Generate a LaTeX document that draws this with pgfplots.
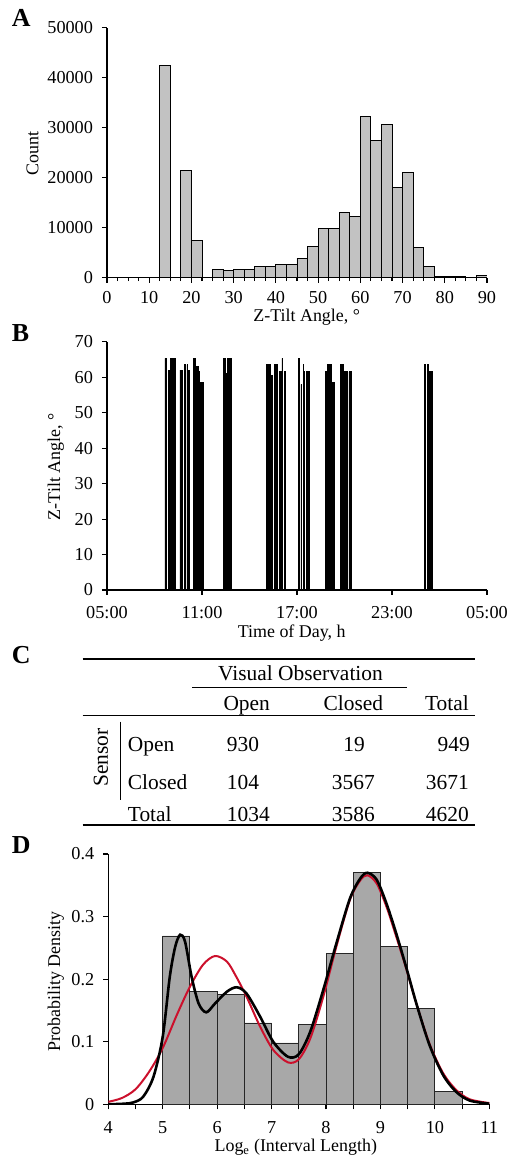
\documentclass[border=0pt]{standalone}
\usepackage{pgfplots}
\pgfplotsset{compat=1.18}
\usepackage{fontspec}
\setmainfont{Liberation Serif}
\definecolor{barA}{RGB}{194,194,194}
\definecolor{barD}{RGB}{168,168,168}
\definecolor{redc}{RGB}{204,16,44}
\newcommand\tickfont{\fontsize{18.3}{20}\selectfont}
\newcommand\labfont{\fontsize{18}{20}\selectfont}
\newcommand\tabfont{\fontsize{21.5}{24}\selectfont}
\newcommand\letfont{\fontsize{26}{28}\selectfont\bfseries}
\pgfplotsset{
  base/.style={
    scale only axis,
    axis lines=left,
    axis line style={-, line width=1.2bp},
    tick align=outside,
    major tick length=5bp,
    minor tick length=3.5bp,
    tick style={black, line width=1.1bp},
    tick label style={font=\tickfont},
    xticklabel style={anchor=base, inner sep=0pt, yshift=-24bp},
    yticklabel style={xshift=-5.5bp},
    scaled x ticks=false, scaled y ticks=false,
    /pgf/number format/fixed,
    /pgf/number format/1000 sep={},
    /pgf/number format/assume math mode=true,
  },
}
\begin{document}
\begin{tikzpicture}
\path[use as bounding box] (0,0) rectangle (509bp,1161bp);
% ---------------- Panel letters
\node[anchor=base west, inner sep=0] at (11.7bp,1134.3bp) {\letfont A};
\node[anchor=base west, inner sep=0] at (11.7bp,819.3bp) {\letfont B};
\node[anchor=base west, inner sep=0] at (11.7bp,497.7bp) {\letfont C};
\node[anchor=base west, inner sep=0] at (11.7bp,307.7bp) {\letfont D};
% ---------------- Panel A
\begin{axis}[base, at={(107bp,883.3bp)}, anchor=south west,
  width=380bp, height=250bp,
  xmin=0, xmax=90, ymin=0, ymax=50000,
  xtick={0,10,...,90}, minor x tick num=3,
  xticklabel style={yshift=3bp},
  ytick={0,10000,20000,30000,40000,50000}]
\addplot[ybar interval, fill=barA, draw=black, line width=0.9bp] coordinates {
(0,0)(2.5,0)(5,0)(7.5,0)(10,0)(12.5,42500)(15,0)(17.5,21500)(20,7500)(22.5,0)
(25,1700)(27.5,1350)(30,1700)(32.5,1700)(35,2150)(37.5,2150)(40,2700)(42.5,2700)
(45,3900)(47.5,6300)(50,9900)(52.5,9900)(55,13000)(57.5,12150)(60,32300)(62.5,27400)
(65,30700)(67.5,18000)(70,21000)(72.5,6000)(75,2150)(77.5,300)(80,280)(82.5,250)
(85,60)(87.5,380)(90,380)};
\end{axis}
\node[anchor=center, rotate=90, font=\labfont] at (32.5bp,1007.7bp) {Count};
\node[anchor=base, inner sep=0, font=\labfont] at (306.7bp,839bp) {Z-Tilt Angle, °};
% ---------------- Panel B
\begin{axis}[base, at={(107bp,571bp)}, anchor=south west,
  width=380bp, height=248.3bp,
  xmin=5, xmax=29, ymin=0, ymax=70,
  xtick={5,11,17,23,29}, xticklabels={05:00,11:00,17:00,23:00,05:00},
  ytick={0,10,...,70}]
\addplot[draw=black, fill=black, line width=0.8bp, line join=miter] coordinates {
(5,0)
(8.66,0)(8.66,65.3)(8.76,65.3)(8.76,0)(8.87,0)(8.87,62)(8.91,62)(8.91,0)
(9.02,0)(9.02,65.3)(9.14,65.3)(9.14,61)(9.20,61)(9.20,65.3)(9.34,65.3)(9.34,0)
(9.61,0)(9.61,62)(9.77,62)(9.77,0)(9.88,0)(9.88,63.5)(9.94,63.5)(9.94,0)
(10.05,0)(10.05,63.5)(10.10,63.5)(10.10,62)(10.20,62)(10.20,0)
(10.45,0)(10.45,65.3)(10.60,65.3)(10.60,63)(10.76,63)(10.76,61.5)(10.82,61.5)(10.82,0)
(10.93,0)(10.93,58.5)(11.08,58.5)(11.08,0)
(12.35,0)(12.35,65.3)(12.50,65.3)(12.50,61)(12.58,61)(12.58,65.3)(12.88,65.3)(12.88,0)
(15.09,0)(15.09,63.5)(15.30,63.5)(15.30,60.5)(15.44,60.5)(15.44,0)
(15.57,0)(15.57,63.5)(15.76,63.5)(15.76,0)(15.87,0)(15.87,61.5)(16.05,61.5)(16.05,65.3)
(16.09,65.3)(16.09,0)(16.19,0)(16.19,61.5)(16.29,61.5)(16.29,0)
(17.10,0)(17.10,65.3)(17.14,65.3)(17.14,0)(17.25,0)(17.25,58)(17.28,58)(17.28,0)
(17.38,0)(17.38,63.5)(17.42,63.5)(17.42,0)(17.46,0)(17.46,61.5)(17.49,61.5)(17.49,0)
(17.61,0)(17.61,61.5)(17.64,61.5)(17.64,0)(17.74,0)(17.74,61.5)(17.78,61.5)(17.78,0)
(18.81,0)(18.81,61.5)(18.92,61.5)(18.92,63.5)(19.02,63.5)(19.02,0)
(19.14,0)(19.14,63.5)(19.18,63.5)(19.18,58.5)(19.36,58.5)(19.36,0)
(19.76,0)(19.76,63.5)(19.92,63.5)(19.92,61.5)(20.17,61.5)(20.17,0)
(20.28,0)(20.28,61.5)(20.41,61.5)(20.41,0)
(25.03,0)(25.03,62)(25.06,62)(25.06,63.5)(25.14,63.5)(25.14,0)
(25.24,0)(25.24,63.5)(25.33,63.5)(25.33,61.5)(25.57,61.5)(25.57,0)
(29,0)};
\end{axis}
\node[anchor=center, rotate=90, font=\labfont] at (55.8bp,694.3bp) {Z-Tilt Angle, °};
\node[anchor=base, inner sep=0, font=\labfont] at (291.7bp,523.7bp) {Time of Day, h};
% ---------------- Panel C (table)
\draw[line width=1.5bp] (82.7bp,502bp) -- (475bp,502bp);
\draw[line width=1bp] (192bp,473.3bp) -- (407bp,473.3bp);
\draw[line width=1bp] (82.7bp,445bp) -- (475bp,445bp);
\draw[line width=1.5bp] (82.7bp,336bp) -- (475bp,336bp);
\draw[line width=1bp] (120bp,439.3bp) -- (120bp,361bp);
\begin{scope}[every node/.style={font=\tabfont, inner sep=0}]
\node[anchor=base] at (300.5bp,480bp) {Visual Observation};
\node[anchor=base] at (246.7bp,450.3bp) {Open};
\node[anchor=base] at (353.3bp,450.3bp) {Closed};
\node[anchor=base east] at (469bp,450.3bp) {Total};
\node[anchor=center, rotate=90] at (100.8bp,403.5bp) {Sensor};
\node[anchor=base west] at (127.7bp,409.3bp) {Open};
\node[anchor=base west] at (226.7bp,409.3bp) {930};
\node[anchor=base] at (354bp,409.3bp) {19};
\node[anchor=base east] at (470bp,409.3bp) {949};
\node[anchor=base west] at (127.7bp,371bp) {Closed};
\node[anchor=base west] at (226.7bp,371bp) {104};
\node[anchor=base] at (353.3bp,371bp) {3567};
\node[anchor=base east] at (469bp,371bp) {3671};
\node[anchor=base west] at (127.7bp,339.3bp) {Total};
\node[anchor=base west] at (226.7bp,339.3bp) {1034};
\node[anchor=base] at (353.3bp,339.3bp) {3586};
\node[anchor=base east] at (469bp,339.3bp) {4620};
\end{scope}
% ---------------- Panel D
\begin{axis}[base, at={(108.3bp,56.7bp)}, anchor=south west,
  width=381bp, height=250.3bp,
  xmin=4, xmax=11, ymin=0, ymax=0.4,
  xtick={4,5,...,11}, minor x tick num=1, minor tick length=5bp,
  ytick={0,0.1,0.2,0.3,0.4}]
\addplot[ybar interval, fill=barD, draw=black!85, line width=0.9bp] coordinates {
(5,0.269)(5.5,0.181)(6,0.176)(6.5,0.130)(7,0.098)(7.5,0.128)(8,0.241)(8.5,0.370)
(9,0.252)(9.5,0.153)(10,0.021)(10.5,0.021)};
\addplot[redc, line width=2bp, smooth] coordinates {
(4,0.004)(4.25,0.010)(4.5,0.024)(4.75,0.052)(5.0,0.090)(5.26,0.143)(5.5,0.188)
(5.74,0.223)(5.96,0.237)(6.18,0.228)(6.35,0.204)(6.54,0.172)(6.79,0.124)(7.03,0.087)
(7.3,0.067)(7.5,0.072)(7.71,0.105)(7.95,0.172)(8.19,0.252)(8.44,0.327)(8.63,0.358)
(8.76,0.366)(8.93,0.353)(9.11,0.316)(9.29,0.268)(9.48,0.215)(9.66,0.161)(9.9,0.097)
(10.15,0.050)(10.39,0.023)(10.64,0.008)(11,0.002)};
\addplot[black, line width=2.6bp, smooth] coordinates {
(4,0.0)(4.3,0.001)(4.46,0.003)(4.64,0.012)(4.83,0.044)(5.0,0.108)(5.13,0.204)
(5.23,0.252)(5.32,0.271)(5.41,0.260)(5.53,0.204)(5.66,0.161)(5.8,0.147)(5.96,0.161)
(6.18,0.180)(6.36,0.187)(6.54,0.177)(6.79,0.140)(7.03,0.100)(7.3,0.076)(7.5,0.080)
(7.71,0.116)(7.95,0.183)(8.19,0.257)(8.44,0.329)(8.63,0.361)(8.76,0.370)(8.93,0.359)
(9.11,0.321)(9.29,0.273)(9.48,0.217)(9.66,0.161)(9.9,0.095)(10.15,0.047)(10.39,0.020)
(10.64,0.006)(11,0.001)};
\end{axis}
\node[anchor=center, rotate=90, font=\labfont] at (55.8bp,179.3bp) {Probability Density};
\node[anchor=base, inner sep=0, font=\labfont] at (295.8bp,9.3bp) {Log\textsubscript{e} (Interval Length)};
\end{tikzpicture}
\end{document}
